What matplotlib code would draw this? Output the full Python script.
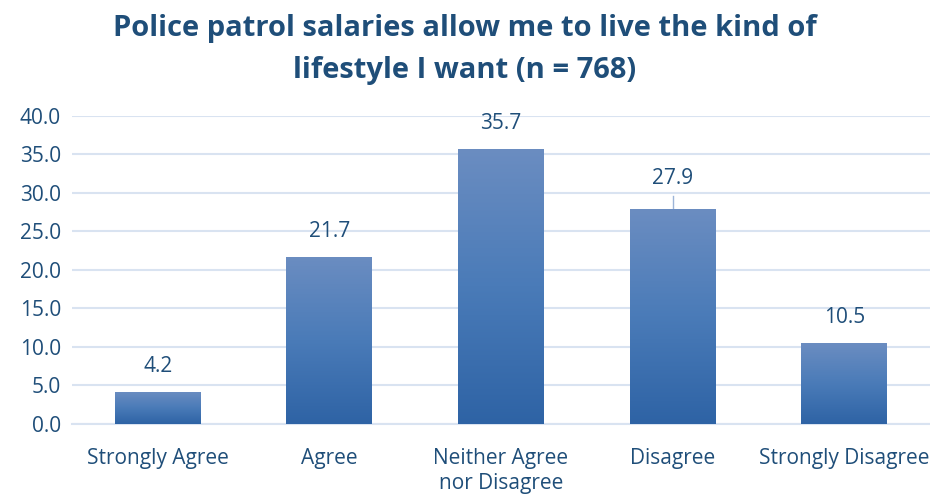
import numpy as np
import matplotlib
matplotlib.use("Agg")
import matplotlib.pyplot as plt
from matplotlib.colors import LinearSegmentedColormap

categories = ["Strongly Agree", "Agree", "Neither Agree\nnor Disagree", "Disagree", "Strongly Disagree"]
values = [4.2, 21.7, 35.7, 27.9, 10.5]
title = "Police patrol salaries allow me to live the kind of\nlifestyle I want (n = 768)"

plt.rcParams['font.family'] = ['Open Sans', 'DejaVu Sans']
text_col = "#1f4e79"
grid_col = "#d9e3f1"

fig = plt.figure(figsize=(9.3, 4.97), dpi=100)
ax = fig.add_axes([0.0774, 0.147, 0.9226, 0.62])

x = np.arange(len(categories))
bars = ax.bar(x, values, width=0.5, color="none", zorder=3)

# vertical gradient inside each bar
cmap = LinearSegmentedColormap.from_list("grad", ["#2e63a5", "#4a7bb8", "#6b8dc1"])
grad = np.linspace(0, 1, 256).reshape(-1, 1)
for b in bars:
    x0, y0, w, h = b.get_x(), b.get_y(), b.get_width(), b.get_height()
    im = ax.imshow(grad, cmap=cmap, origin="lower", aspect="auto",
                   extent=[x0, x0 + w, y0, y0 + h], zorder=3)
    im.set_clip_path(b)

ax.set_xlim(-0.5, len(categories) - 0.5)
ax.set_ylim(0, 40)
ax.set_yticks(np.arange(0, 40.1, 5))
ax.set_yticklabels([f"{v:.1f}" for v in np.arange(0, 40.1, 5)])
ax.set_xticks(x)
ax.set_xticklabels(categories, linespacing=1.3)
ax.grid(axis="y", color=grid_col, linewidth=1.5, zorder=0)
for s in ["top", "right", "left"]:
    ax.spines[s].set_visible(False)
ax.spines["bottom"].set_color(grid_col)
ax.spines["bottom"].set_linewidth(1.5)
ax.tick_params(axis="both", length=0, labelsize=15, colors=text_col)
ax.tick_params(axis="x", pad=17)
ax.tick_params(axis="y", pad=8)

for i, v in enumerate(values):
    if v == 27.9:
        ax.plot([i, i], [v, v + 1.7], color="#9db5d8", linewidth=1, zorder=2)
        ax.text(i, v + 4.0, f"{v:.1f}", ha="center", va="center", fontsize=15, color=text_col)
    else:
        ax.text(i, v + 3.3, f"{v:.1f}", ha="center", va="center", fontsize=15, color=text_col)

fig.text(0.5, 0.9, title, ha="center", va="center", fontsize=21,
         fontweight="bold", color=text_col, linespacing=1.6)

fig.savefig("out.png", dpi=100)
